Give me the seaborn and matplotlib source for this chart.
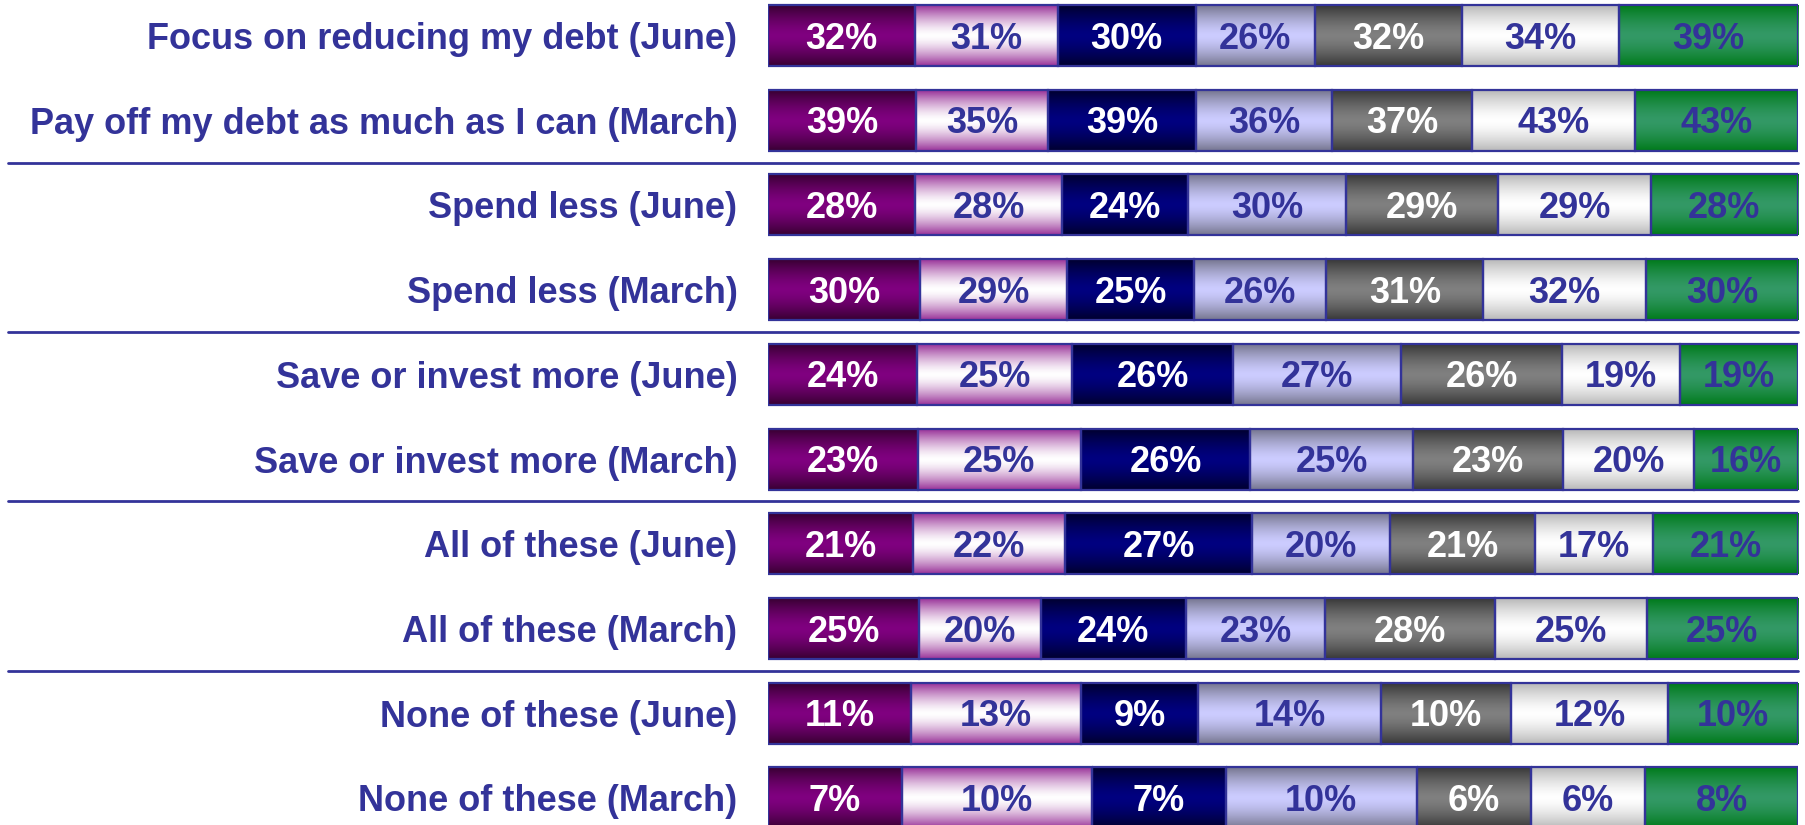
import numpy as np
import pandas as pd
import seaborn as sns
import matplotlib.pyplot as plt
from matplotlib.colors import to_rgb

categories = [
    "Focus on reducing my debt (June)",
    "Pay off my debt as much as I can (March)",
    "Spend less (June)",
    "Spend less (March)",
    "Save or invest more (June)",
    "Save or invest more (March)",
    "All of these (June)",
    "All of these (March)",
    "None of these (June)",
    "None of these (March)",
]
purple_vals = [32, 39, 28, 30, 24, 23, 21, 25, 11, 7]
pink_vals = [31, 35, 28, 29, 25, 25, 22, 20, 13, 10]
navy_vals = [30, 39, 24, 25, 26, 26, 27, 24, 9, 7]
lavender_vals = [26, 36, 30, 26, 27, 25, 20, 23, 14, 10]
gray_vals = [32, 37, 29, 31, 26, 23, 21, 28, 10, 6]
silver_vals = [34, 43, 29, 32, 19, 20, 17, 25, 12, 6]
green_vals = [39, 43, 28, 30, 19, 16, 21, 25, 10, 8]

df = pd.DataFrame({
    "category": categories,
    "purple": purple_vals,
    "pink": pink_vals,
    "navy": navy_vals,
    "lavender": lavender_vals,
    "gray": gray_vals,
    "silver": silver_vals,
    "green": green_vals,
})
cols = ["purple", "pink", "navy", "lavender", "gray", "silver", "green"]
shares = df[cols].div(df[cols].sum(axis=1), axis=0)

# (edge colour, centre colour, label colour)
styles = {
    "purple": ("#380032", "#800080", "white"),
    "pink": ("#993399", "#ffffff", "#333399"),
    "navy": ("#00002e", "#000080", "white"),
    "lavender": ("#76768f", "#ccccff", "#333399"),
    "gray": ("#383838", "#808080", "white"),
    "silver": ("#b8b8b8", "#ffffff", "#333399"),
    "green": ("#007a1a", "#339966", "#333399"),
}
line_col = "#333399"


def gradient(edge, mid, n=64):
    u = np.linspace(0, 1, n)
    t = np.abs(2 * u - 1) ** 1.5
    e, m = np.array(to_rgb(edge)), np.array(to_rgb(mid))
    return (m[None, :] * (1 - t[:, None]) + e[None, :] * t[:, None])[:, None, :]


sns.set_theme(style="white")
plt.rcParams["font.family"] = ["Liberation Sans", "DejaVu Sans"]

fig = plt.figure(figsize=(18.05, 8.25), dpi=100)
ax = fig.add_axes([768 / 1805, 0, 1030 / 1805, 1])

left = np.zeros(len(df))
for col in cols:
    edge, mid, txt = styles[col]
    n0 = len(ax.patches)
    sns.barplot(x=shares[col].values, y=df["category"], order=categories,
                orient="h", color=mid, width=0.72, ax=ax)
    img = gradient(edge, mid)
    for p in ax.patches[n0:]:
        i = int(round(p.get_y() + p.get_height() / 2))
        w = shares[col].iloc[i]
        p.set_x(left[i])
        p.set_facecolor("none")
        p.set_edgecolor(line_col)
        p.set_linewidth(1.6)
        p.set_zorder(3)
        y0, y1 = p.get_y(), p.get_y() + p.get_height()
        ax.imshow(img, extent=[left[i], left[i] + w, y1, y0], aspect="auto",
                  interpolation="bilinear", zorder=2)
        ax.text(left[i] + w / 2, i + 0.155, f"{df[col].iloc[i]}%", ha="center",
                va="baseline", fontsize=26, fontweight="bold", color=txt,
                zorder=4)
    left += shares[col].values

for yy in [1.5, 3.5, 5.5, 7.5]:
    ax.plot([-0.738, 1.0], [yy, yy], transform=ax.get_yaxis_transform(),
            color=line_col, lw=2, clip_on=False)

ax.set_xlim(0, 1)
ax.set_ylim(9.32, -0.419)
ax.set_xticks([])
ax.set_xlabel("")
ax.set_ylabel("")
ax.tick_params(axis="y", length=0, pad=22, labelsize=26, labelcolor=line_col)
for lab in ax.get_yticklabels():
    lab.set_fontweight("bold")
sns.despine(ax=ax, left=True, bottom=True)

fig.savefig("out.png", dpi=100)
